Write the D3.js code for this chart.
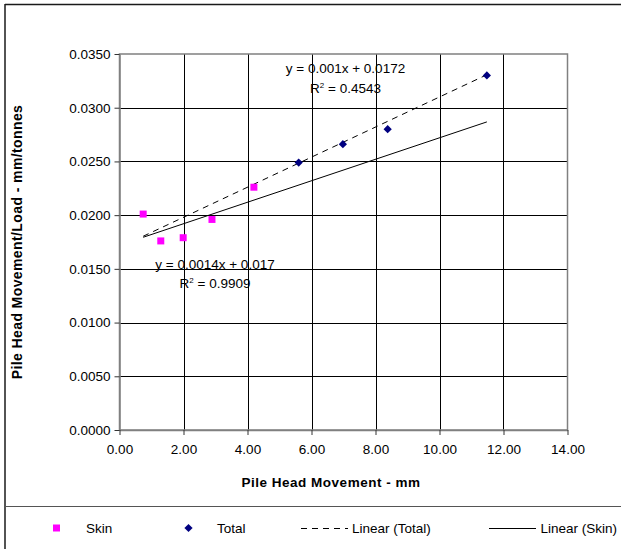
<!DOCTYPE html>
<html>
<head>
<meta charset="utf-8">
<script src="https://cdn.jsdelivr.net/npm/d3@7"></script>
<style>
  html, body { margin: 0; padding: 0; background: #fff; }
  svg { display: block; font-family: "Liberation Sans", Arial, sans-serif; }
</style>
</head>
<body>
<svg id="chart" width="621" height="549"></svg>
<script>
// ---- data ----
const skinX = [0.74, 1.29, 1.99, 2.89, 4.20];
const skinY = [0.0201, 0.0176, 0.0179, 0.0196, 0.0226];
const totalX = [5.60, 6.98, 8.38, 11.48];
const totalY = [0.0249, 0.0266, 0.0280, 0.0330];
// trendlines as drawn (slope, intercept) over x range
const dashedTrend = { slope: 0.0014, intercept: 0.017 };   // Linear (Total)
const solidTrend  = { slope: 0.001,  intercept: 0.0172 };  // Linear (Skin)
const trendXRange = [0.74, 11.48];
const xTicks = [0, 2, 4, 6, 8, 10, 12, 14];
const yTicks = [0, 0.005, 0.010, 0.015, 0.020, 0.025, 0.030, 0.035];
const eqLabels = [
  { eq: "y = 0.001x + 0.0172", r2: " = 0.4543" },
  { eq: "y = 0.0014x + 0.017", r2: " = 0.9909" }
];
const legendNames = ["Skin", "Total", "Linear (Total)", "Linear (Skin)"];
const xTitle = "Pile Head Movement - mm";
const yTitle = "Pile Head Movement/Load - mm/tonnes";

// ---- drawing ----
const FS = 13.5;
const svg = d3.select("#chart");
const L = 119.5, R = 567.5, T = 54, B = 430;
const x = d3.scaleLinear().domain([0, 14]).range([L, R]);
const y = d3.scaleLinear().domain([0, 0.035]).range([B, T]);

// outer chart border (left + top visible) and legend separator
svg.append("line").attr("x1", 5).attr("x2", 5).attr("y1", 4).attr("y2", 549).attr("stroke", "#1a1a1a").attr("stroke-width", 1.5);
svg.append("line").attr("x1", 5).attr("x2", 621).attr("y1", 4.5).attr("y2", 4.5).attr("stroke", "#1a1a1a").attr("stroke-width", 1.5);
svg.append("line").attr("x1", 5).attr("x2", 621).attr("y1", 506.5).attr("y2", 506.5).attr("stroke", "#555").attr("stroke-width", 1);

// gridlines
const g = svg.append("g");
g.selectAll(".vg").data(xTicks.filter(d => d > 0 && d < 14)).enter().append("line")
  .attr("x1", d => Math.round(x(d)) + 0.5).attr("x2", d => Math.round(x(d)) + 0.5)
  .attr("y1", T).attr("y2", B).attr("stroke", "#000").attr("stroke-width", 1);
g.selectAll(".hg").data(yTicks.filter(d => d > 0 && d < 0.035)).enter().append("line")
  .attr("y1", d => Math.round(y(d)) + 0.5).attr("y2", d => Math.round(y(d)) + 0.5)
  .attr("x1", L).attr("x2", R).attr("stroke", "#000").attr("stroke-width", 1);

// plot border
svg.append("rect").attr("x", L).attr("y", T).attr("width", R - L).attr("height", B - T)
  .attr("fill", "none").attr("stroke", "#808080").attr("stroke-width", 1.5);

// axes
const yAxis = svg.append("g").attr("transform", `translate(${L},0)`)
  .call(d3.axisLeft(y).tickValues(yTicks).tickFormat(d3.format(".4f")).tickSize(5).tickSizeOuter(0).tickPadding(4));
const xAxis = svg.append("g").attr("transform", `translate(0,${B})`)
  .call(d3.axisBottom(x).tickValues(xTicks).tickFormat(d3.format(".2f")).tickSize(5).tickSizeOuter(0).tickPadding(9));
[yAxis, xAxis].forEach(a => {
  a.select(".domain").attr("stroke", "#808080").attr("stroke-width", 1.5);
  a.selectAll(".tick line").attr("stroke", "#333");
  a.selectAll("text").attr("font-size", FS).attr("fill", "#000").attr("font-family", "Liberation Sans, Arial, sans-serif");
});

// axis titles
svg.append("text").attr("x", 331).attr("y", 487).attr("text-anchor", "middle")
  .attr("font-size", FS).attr("font-weight", "bold").attr("letter-spacing", 0.5).text(xTitle);
svg.append("text").attr("transform", "translate(22,242) rotate(-90)").attr("text-anchor", "middle")
  .attr("font-size", 14).attr("font-weight", "bold").attr("letter-spacing", 0.4).text(yTitle);

// trendlines
function trend(t) {
  return trendXRange.map(v => [x(v), y(t.slope * v + t.intercept)]);
}
const line = d3.line();
svg.append("path").attr("d", line(trend(dashedTrend))).attr("fill", "none")
  .attr("stroke", "#000").attr("stroke-width", 1).attr("stroke-dasharray", "6,5");
svg.append("path").attr("d", line(trend(solidTrend))).attr("fill", "none")
  .attr("stroke", "#000").attr("stroke-width", 1);

// points
const sq = d3.symbol().type(d3.symbolSquare).size(49);
const dm = d3.symbol().type(d3.symbolSquare).size(34);
svg.selectAll(".skin").data(skinX.map((v, i) => [v, skinY[i]])).enter().append("path")
  .attr("d", sq).attr("fill", "#FF00FF")
  .attr("transform", d => `translate(${x(d[0])},${y(d[1])})`);
svg.selectAll(".total").data(totalX.map((v, i) => [v, totalY[i]])).enter().append("path")
  .attr("d", dm).attr("fill", "#000080")
  .attr("transform", d => `translate(${x(d[0])},${y(d[1])}) rotate(45)`);

// equation labels
const eqPos = [{ x: 345.5, y1: 73, y2: 92.5 }, { x: 215, y1: 269, y2: 288 }];
eqLabels.forEach((e, i) => {
  const p = eqPos[i];
  svg.append("text").attr("x", p.x).attr("y", p.y1).attr("text-anchor", "middle").attr("font-size", FS).text(e.eq);
  const t = svg.append("text").attr("x", p.x).attr("y", p.y2).attr("text-anchor", "middle").attr("font-size", FS);
  t.append("tspan").text("R");
  t.append("tspan").attr("font-size", 8).attr("dy", -5).text("2");
  t.append("tspan").attr("dy", 5).text(e.r2);
});

// legend
const ly = 528;
svg.append("path").attr("d", sq).attr("fill", "#FF00FF").attr("transform", `translate(56.5,${ly})`);
svg.append("path").attr("d", dm).attr("fill", "#000080").attr("transform", `translate(188.5,${ly}) rotate(45)`);
svg.append("line").attr("x1", 301).attr("x2", 348).attr("y1", ly + 0.5).attr("y2", ly + 0.5)
  .attr("stroke", "#000").attr("stroke-dasharray", "6,5");
svg.append("line").attr("x1", 489).attr("x2", 536).attr("y1", ly + 0.5).attr("y2", ly + 0.5).attr("stroke", "#000");
const legX = [86, 217, 352, 540.5];
legendNames.forEach((n, i) => {
  svg.append("text").attr("x", legX[i]).attr("y", ly + 5).attr("font-size", FS).text(n);
});
</script>
</body>
</html>
